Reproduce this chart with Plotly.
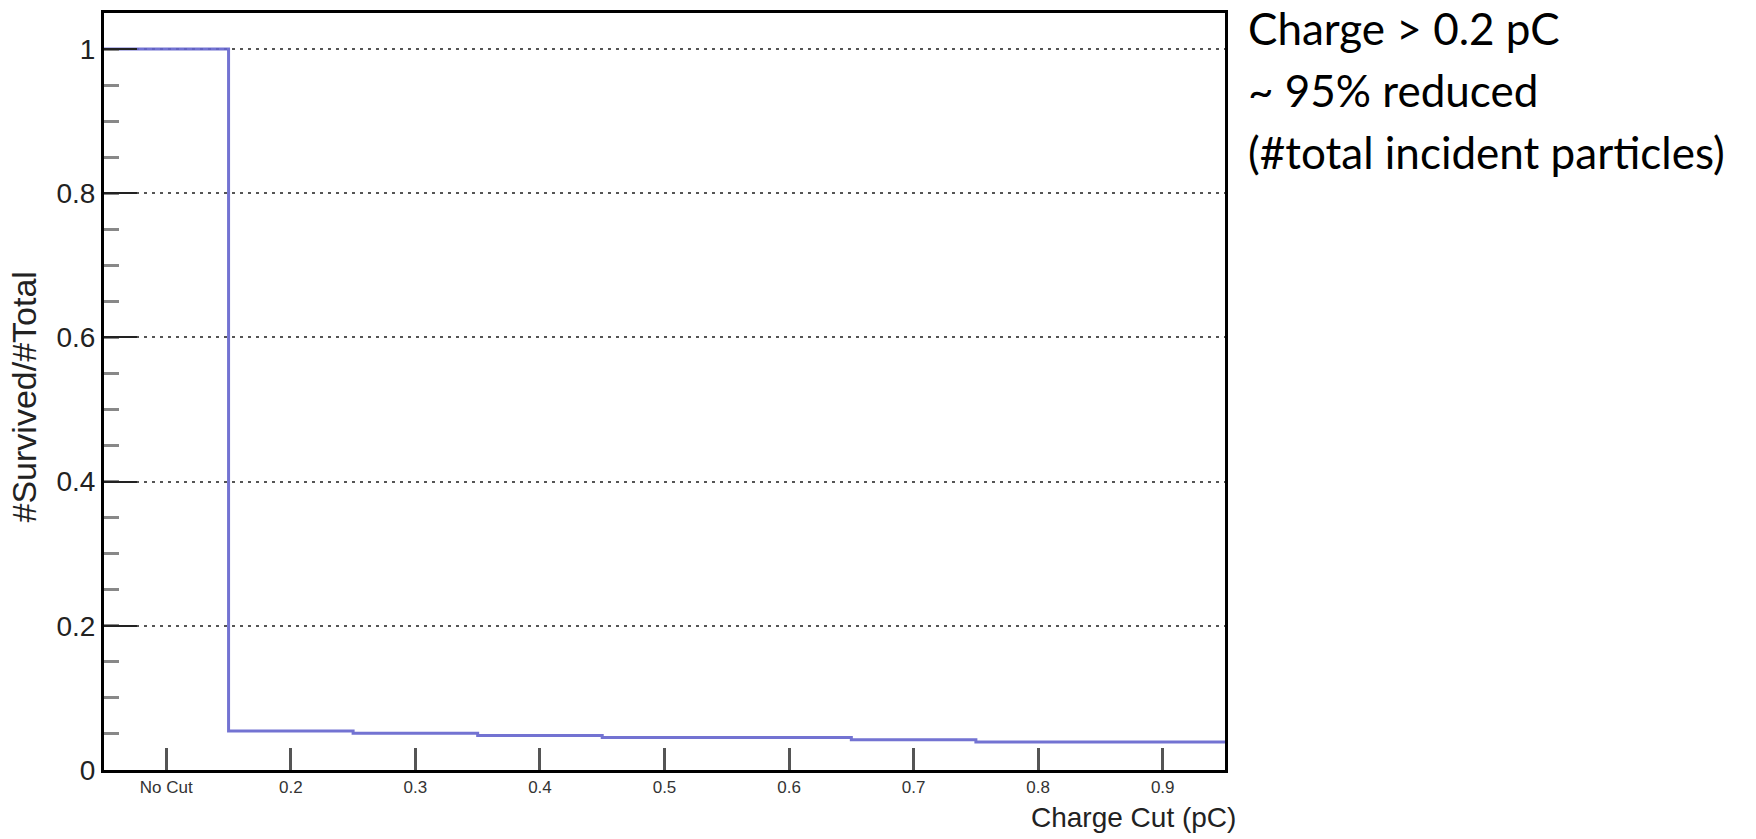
import plotly.graph_objects as go

# Charge-cut scan: fraction of incident particles surviving each cut
cut_centers = [0.1, 0.2, 0.3, 0.4, 0.5, 0.6, 0.7, 0.8, 0.9]
cut_labels = ["No Cut", "0.2", "0.3", "0.4", "0.5", "0.6", "0.7", "0.8", "0.9"]
survived_fraction = [1.0, 0.054, 0.051, 0.048, 0.045, 0.045, 0.042, 0.039, 0.039]
bin_width = 0.1

y_ticks = [0, 0.2, 0.4, 0.6, 0.8, 1.0]
y_tick_labels = ["0", "0.2", "0.4", "0.6", "0.8", "1"]

note_lines = ["Charge > 0.2 pC", "~ 95% reduced", "(#total incident particles)"]

# histogram drawn as a step outline over bin edges
edges = [c - bin_width / 2 for c in cut_centers] + [cut_centers[-1] + bin_width / 2]
step_y = survived_fraction + [survived_fraction[-1]]

W, H = 1756, 839
L, R, T, B = 104, 1225, 10, 770


def px_x(px):
    return (px - L) / (R - L)


def px_y(py):
    return (B - py) / (B - T)


fig = go.Figure()
fig.add_trace(go.Scatter(
    x=edges, y=step_y, mode="lines", line_shape="hv",
    line=dict(color="rgba(100,100,205,0.9)", width=3),
    hoverinfo="skip", showlegend=False,
))

axis_font = "Liberation Sans, Arial, Helvetica, sans-serif"

fig.update_layout(
    width=W, height=H,
    margin=dict(l=L, r=W - R, t=T, b=H - B, pad=0),
    paper_bgcolor="white", plot_bgcolor="white",
    showlegend=False,
    xaxis=dict(
        range=[edges[0], edges[-1]],
        tickmode="array", tickvals=cut_centers, ticktext=cut_labels,
        ticks="inside", ticklen=22, tickwidth=3, tickcolor="#555",
        tickfont=dict(family=axis_font, size=17, color="#333"),
        showgrid=False, zeroline=False,
        showline=True, linecolor="black", linewidth=3, mirror=True,
    ),
    yaxis=dict(
        range=[0, 1.05],
        tickmode="array", tickvals=y_ticks, ticktext=y_tick_labels,
        ticks="inside", ticklen=33, tickwidth=2, tickcolor="#222",
        tickfont=dict(family=axis_font, size=28, color="#222"),
        minor=dict(dtick=0.05, tick0=0, ticks="inside", ticklen=15,
                   tickwidth=3, tickcolor="#888", showgrid=False),
        showgrid=True, gridcolor="#555", gridwidth=2, griddash="3px,5px",
        zeroline=False,
        showline=True, linecolor="black", linewidth=3, mirror=True,
    ),
)

# axis titles
fig.add_annotation(
    text="#Survived/#Total", textangle=-90,
    x=px_x(24), y=px_y(396), xref="paper", yref="paper",
    xanchor="center", yanchor="middle", showarrow=False,
    font=dict(family=axis_font, size=34, color="#222"),
)
fig.add_annotation(
    text="Charge Cut (pC)",
    x=px_x(1238), y=px_y(818), xref="paper", yref="paper",
    xanchor="right", yanchor="middle", showarrow=False,
    font=dict(family=axis_font, size=28, color="#222"),
)

# side note, one annotation per line for even spacing
line_step = 62
for i, line in enumerate(note_lines):
    fig.add_annotation(
        text=line,
        x=px_x(1246), y=px_y(-3 + i * line_step), xref="paper", yref="paper",
        xanchor="left", yanchor="top", align="left", showarrow=False,
        font=dict(family="Lato, Carlito, sans-serif", size=44, color="black"),
    )

fig.write_html("out.html")
